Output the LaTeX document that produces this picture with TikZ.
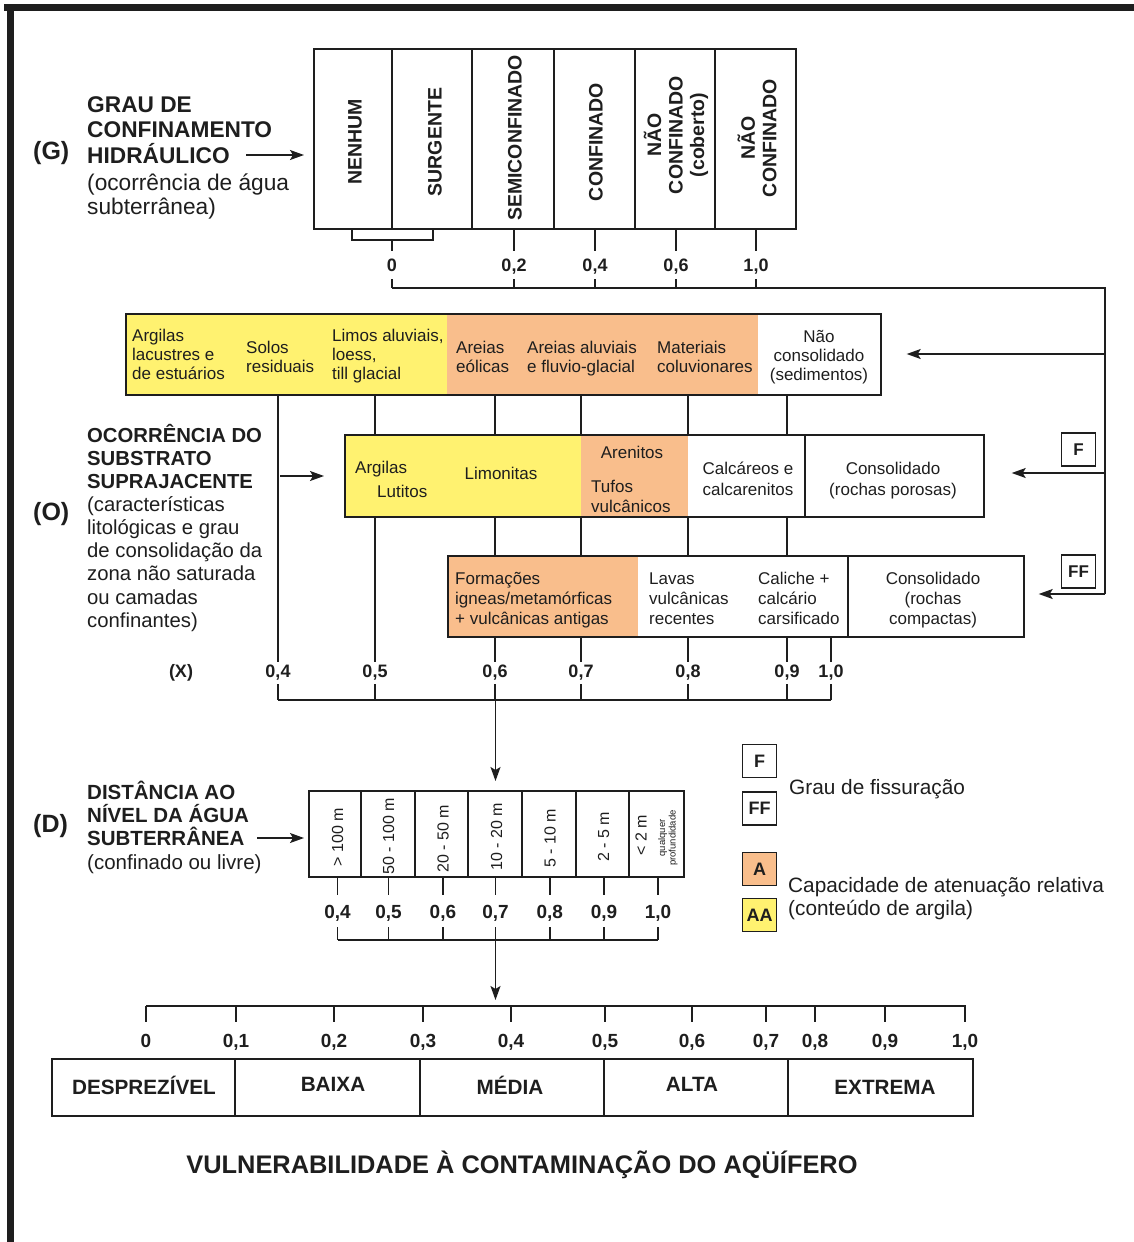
\documentclass[tikz,border=0pt]{standalone}
\usepackage{fontspec}
\setmainfont{Liberation Sans}
\usetikzlibrary{arrows.meta}
\newcommand\myfs[2]{\fontsize{#1}{#2}\selectfont}
\newcommand\fl{\rule{0pt}{1em}}
\definecolor{yel}{RGB}{255,242,112}
\definecolor{ora}{RGB}{249,190,140}
\definecolor{ink}{RGB}{30,30,30}
\begin{document}
\begin{tikzpicture}[x=1pt,y=-1pt,
  box/.style={draw=ink,line width=1.7pt,inner sep=0pt,anchor=north west},
  div/.style={draw=ink,line width=1.5pt},
  ln/.style={draw=ink,line width=1.4pt},
  arr/.style={draw=ink,line width=1.4pt,-{Stealth[length=14pt,width=10pt,inset=3pt]}},
  tl/.style={inner sep=0pt,text=ink,align=left,anchor=north west},
  tc/.style={inner sep=0pt,text=ink,align=center,anchor=north},
  bs/.style={inner sep=0pt,text=ink},
  vt/.style={rotate=90,inner sep=0pt,text=ink,align=center,font=\bfseries\myfs{19.5}{21.5}},
  dv/.style={rotate=90,inner sep=0pt,text=ink,align=center,font=\myfs{16}{18}},
  num/.style={inner sep=0pt,text=ink,anchor=base,font=\bfseries\myfs{18}{20}},
  big/.style={inner sep=0pt,text=ink,anchor=base west,font=\bfseries\myfs{25}{28}},
  bx/.style={font=\myfs{17}{19.3}},
  lg/.style={draw=ink,line width=1.5pt,minimum width=34pt,minimum height=33pt,inner sep=0pt,text=ink,font=\bfseries\myfs{18}{20}}
]
\useasboundingbox (0,0) rectangle (1134,1242);
% frame
\fill[ink] (4,4) rectangle (1134,11);
\fill[ink] (7,4) rectangle (14,1242);

% ================= G =================
\node[big] (gG) at (33,159) {(G)};
\node[tl,font=\bfseries\myfs{22.7}{25.5}] (gt) at (87,89.3) {\fl GRAU DE\\CONFINAMENTO\\HIDRÁULICO};
\node[tl,font=\myfs{22.7}{24.5}] (gs) at (87,167.3) {\fl(ocorrência de água\\subterrânea)};
\node[box,minimum width=482pt,minimum height=180pt] (gbox) at (313,48) {};
\foreach \x in {392,472,554,635,715} \draw[div] (\x,48) -- (\x,228);
\coordinate (ga) at (246,155);
\draw[arr,shorten >=9pt] (ga) -- (ga -| gbox.west);
\node[vt] (g1) at (355,142) {NENHUM};
\node[vt] (g2) at (435,142) {SURGENTE};
\node[vt] (g3) at (515,138) {SEMICONFINADO};
\node[vt] (g4) at (596,142) {CONFINADO};
\node[vt] (g5) at (676,135) {NÃO\\CONFINADO\\(coberto)};
\node[vt] (g6) at (757,138) {NÃO\\CONFINADO};
% scale under G
\draw[ln] (352,228) -- (352,240) -- (433,240) -- (433,228);
\draw[ln] (392,240) -- (392,251);
\foreach \x in {514,595,676,756} \draw[ln] (\x,228) -- (\x,251);
\foreach \x/\t [count=\i] in {392/{0},514/{0,2},595/{0,4},676/{0,6},756/{1,0}} {
  \node[num] (gn\i) at (\x,271) {\t};
  \draw[ln] (\x,279) -- (\x,288);
}
\coordinate (rtop) at (1105,288);
\coordinate (rbot) at (1105,594);
\draw[ln] (392,288) -- (rtop) -- (rbot);

% ================= O =================
\node[big] (oO) at (33,520) {(O)};
\node[tl,font=\bfseries\myfs{20.3}{23.2}] (ot) at (87,421.7) {\fl OCORRÊNCIA DO\\SUBSTRATO\\SUPRAJACENTE};
\node[tl,font=\myfs{20.3}{23.2}] (os) at (87,490.7) {\fl(características\\litológicas e grau\\de consolidação da\\zona não saturada\\ou camadas\\confinantes)};

% O1
\fill[yel] (125,313) rectangle (447,394);
\fill[ora] (447,313) rectangle (758,394);
\node[box,minimum width=755pt,minimum height=81pt] (o1) at (125,313) {};
\node[tl,bx] (a1) at (132,324) {\fl Argilas\\lacustres e\\de estuários};
\node[tl,bx] (a2) at (246,336) {\fl Solos\\residuais};
\node[tl,bx] (a3) at (332,324) {\fl Limos aluviais,\\loess,\\till glacial};
\node[tl,bx] (a4) at (456,336) {\fl Areias\\eólicas};
\node[tl,bx] (a5) at (527,336) {\fl Areias aluviais\\e fluvio-glacial};
\node[tl,bx] (a6) at (657,336) {\fl Materiais\\coluvionares};
\node[tc,bx] (a7) at (819,325) {\fl Não\\consolidado\\(sedimentos)};

% O2
\fill[yel] (344,434) rectangle (581,516);
\fill[ora] (581,434) rectangle (688,516);
\node[box,minimum width=639pt,minimum height=82pt] (o2) at (344,434) {};
\draw[div] (805,434) -- (805,516);
\node[bs,bx,anchor=base west] (b1) at (355,473) {Argilas};
\node[bs,bx,anchor=base west] (b2) at (377,497) {Lutitos};
\node[bs,bx,anchor=base] (b3) at (501,479) {Limonitas};
\node[bs,bx,anchor=base] (b4) at (632,458) {Arenitos};
\node[tl,font=\myfs{17}{20}] (b5) at (591,475) {\fl Tufos\\vulcânicos};
\node[tc,font=\myfs{17}{21}] (b6) at (748,457) {\fl Calcáreos e\\calcarenitos};
\node[tc,font=\myfs{17}{21}] (b7) at (893,457) {\fl Consolidado\\(rochas porosas)};

% O3
\fill[ora] (447,555) rectangle (638,636);
\node[box,minimum width=576pt,minimum height=81pt] (o3) at (447,555) {};
\draw[div] (848,555) -- (848,636);
\node[tl,font=\myfs{17}{20}] (c1) at (455,567) {\fl Formações\\igneas/metamórficas\\+ vulcânicas antigas};
\node[tl,font=\myfs{17}{20}] (c2) at (649,567) {\fl Lavas\\vulcânicas\\recentes};
\node[tl,font=\myfs{17}{20}] (c3) at (758,567) {\fl Caliche +\\calcário\\carsificado};
\node[tc,font=\myfs{17}{20}] (c4) at (933,567) {\fl Consolidado\\(rochas\\compactas)};

% arrows into O
\coordinate (oa) at (280,476);
\draw[arr,shorten >=20pt] (oa) -- (oa -| o2.west);
\coordinate (r1) at (1105,354);
\draw[arr,shorten >=25pt] (r1) -- (r1 -| o1.east);
\coordinate (r2) at (1105,473);
\draw[arr,shorten >=27pt] (r2) -- (r2 -| o2.east);
\coordinate (r3) at (1105,594);
\draw[arr,shorten >=14pt] (r3) -- (r3 -| o3.east);
\node[lg,font=\bfseries\myfs{17}{20}] (F1) at (1078.5,449.5) {F};
\node[lg,font=\bfseries\myfs{17}{20}] (F2) at (1078.5,571.5) {FF};

% vertical lines of O
\draw[ln] (278,394) -- (278,662);
\draw[ln] (375,394) -- (375,434);
\draw[ln] (375,516) -- (375,662);
\foreach \x in {495,581,688,787} {
  \draw[ln] (\x,394) -- (\x,434);
  \draw[ln] (\x,516) -- (\x,555);
  \draw[ln] (\x,636) -- (\x,662);
}
\draw[ln] (831,636) -- (831,662);
\node[num] (xX) at (181,677) {(X)};
\foreach \x/\t [count=\i] in {278/{0,4},375/{0,5},495/{0,6},581/{0,7},688/{0,8},787/{0,9},831/{1,0}} {
  \node[num] (xn\i) at (\x,677) {\t};
  \draw[ln] (\x,684) -- (\x,700);
}
\draw[ln] (278,700) -- (831,700);

% ================= D =================
\node[big] (dD) at (33,832) {(D)};
\node[tl,font=\bfseries\myfs{20.5}{23.3}] (dt) at (87,778.5) {\fl DISTÂNCIA AO\\NÍVEL DA ÁGUA\\SUBTERRÂNEA};
\node[bs,anchor=base west,font=\myfs{20.5}{23}] (ds) at (87,869) {(confinado ou livre)};
\node[box,minimum width=375pt,minimum height=86pt] (dbox) at (308,790) {};
\foreach \x in {361,415,468,522,576,629} \draw[div] (\x,790) -- (\x,876);
\coordinate (oc) at (495.5,700);
\draw[arr,shorten >=9pt] (oc) -- (oc |- dbox.north);
\coordinate (da) at (257,838);
\draw[arr,shorten >=4pt] (da) -- (da -| dbox.west);
\node[dv] (d1) at (337.5,837) {> 100 m};
\node[dv] (d2) at (388.6,836) {50 - 100 m};
\node[dv] (d3) at (443,839) {20 - 50 m};
\node[dv] (d4) at (496.5,837) {10 - 20 m};
\node[dv] (d5) at (550,838) {5 - 10 m};
\node[dv] (d6) at (603.7,837) {2 - 5 m};
\node[dv] (d7) at (641,835) {< 2 m};
\node[rotate=90,inner sep=0pt,text=ink,align=center,font=\myfs{9.5}{10.5}] (d8) at (668,838) {qualquer\\profundidade};
\foreach \x/\t [count=\i] in {337.6/{0,4},388.6/{0,5},442.9/{0,6},495.5/{0,7},549.8/{0,8},604/{0,9},658/{1,0}} {
  \draw[ln] (\x,876) -- (\x,895);
  \node[num,font=\bfseries\myfs{19}{21}] (dn\i) at (\x,918) {\t};
  \draw[ln] (\x,927) -- (\x,940);
}
\draw[ln] (337.6,940) -- (658,940);

% ================= legend =================
\node[lg] (L1) at (759.5,761) {F};
\node[lg] (L2) at (759.5,808.5) {FF};
\node[lg,fill=ora] (L3) at (759.5,869) {A};
\node[lg,fill=yel] (L4) at (759.5,915) {AA};
\node[bs,anchor=base west,font=\myfs{20.8}{23}] (lt1) at (789,794) {Grau de fissuração};
\node[tl,font=\myfs{20.8}{23}] (lt2) at (788,871.2) {\fl Capacidade de atenuação relativa\\(conteúdo de argila)};

% ================= vulnerability scale =================
\coordinate (vc) at (495.5,940);
\coordinate (s0) at (146,1006);
\coordinate (s1) at (966,1006);
\draw[arr,shorten >=6pt] (vc) -- (vc |- s0);
\draw[draw=ink,line width=2pt] (s0) -- (s1);
\foreach \x/\t [count=\i] in {146/{0},236/{0,1},334/{0,2},423/{0,3},511/{0,4},605/{0,5},692/{0,6},766/{0,7},815/{0,8},885/{0,9},965/{1,0}} {
  \draw[ln] (\x,1006) -- (\x,1022);
  \node[num,font=\bfseries\myfs{19}{21}] (sn\i) at (\x,1047) {\t};
}
\node[box,minimum width=921pt,minimum height=57pt] (vbox) at (51,1058) {};
\foreach \x in {235,420,604,788} \draw[div] (\x,1058) -- (\x,1115);
\node[bs,anchor=base,font=\bfseries\myfs{20.7}{23}] (v1) at (144,1094) {DESPREZÍVEL};
\node[bs,anchor=base,font=\bfseries\myfs{20.7}{23}] (v2) at (333,1091) {BAIXA};
\node[bs,anchor=base,font=\bfseries\myfs{20.7}{23}] (v3) at (510,1094) {MÉDIA};
\node[bs,anchor=base,font=\bfseries\myfs{20.7}{23}] (v4) at (692,1091) {ALTA};
\node[bs,anchor=base,font=\bfseries\myfs{20.7}{23}] (v5) at (885,1094) {EXTREMA};
\node[bs,anchor=base,font=\bfseries\myfs{25.4}{28}] (title) at (522,1173) {VULNERABILIDADE À CONTAMINAÇÃO DO AQÜÍFERO};
\end{tikzpicture}
\end{document}
